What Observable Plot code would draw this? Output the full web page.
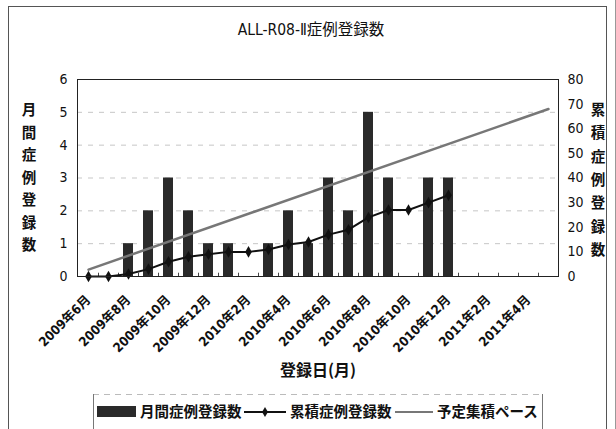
<!DOCTYPE html>
<html>
<head>
<meta charset="utf-8">
<script src="https://cdn.jsdelivr.net/npm/d3@7"></script>
<script src="https://cdn.jsdelivr.net/npm/@observablehq/plot@0.6"></script>
<style>
  html, body { margin: 0; padding: 0; background: #fff; }
  #chart svg { display: block; }
</style>
</head>
<body>
<div id="chart"></div>
<script>
// Registration months (x categories)
const months = [
  "2009年6月","2009年7月","2009年8月","2009年9月","2009年10月","2009年11月",
  "2009年12月","2010年1月","2010年2月","2010年3月","2010年4月","2010年5月",
  "2010年6月","2010年7月","2010年8月","2010年9月","2010年10月","2010年11月",
  "2010年12月","2011年1月","2011年2月","2011年3月","2011年4月","2011年5月"
];
// Monthly registrations (left axis), from 2009年6月 onward
const monthlyCounts = [0,0,1,2,3,2,1,1,0,1,2,1,3,2,5,3,0,3,3];
// Cumulative registrations (right axis), from 2009年6月 onward
const cumulativeCounts = [0,0,1,3,6,8,9,10,10,11,13,14,17,19,24,27,27,30,33];
// Planned accrual pace (right axis): first and last month of the plan
const paceMonths = ["2009年6月", "2011年5月"];
const paceValues = [2.8, 68];
// Axis ticks
const leftTicks = [0,1,2,3,4,5,6];
const rightTicks = [0,10,20,30,40,50,60,70,80];
const xTickLabels = months.filter((m, i) => i % 2 === 0);

const title = "ALL-R08-Ⅱ症例登録数";
const leftLabel = "月間症例登録数";
const rightLabel = "累積症例登録数";
const xLabel = "登録日(月)";
const legendNames = ["月間症例登録数", "累積症例登録数", "予定集積ペース"];

// right axis (0–80) is mapped onto the left axis range (0–6)
const k = 6 / 80;

const monthlyRows = monthlyCounts.map((v, i) => ({month: months[i], value: v}));
const cumulativeRows = cumulativeCounts.map((v, i) => ({month: months[i], value: v * k}));
const paceRows = paceMonths.map((m, i) => ({month: m, value: paceValues[i] * k}));

const FONT = "'Liberation Sans Narrow', 'DejaVu Sans Condensed', 'Noto Sans CJK JP', sans-serif";
const CJK = "'Noto Sans CJK JP', sans-serif";

const plot = Plot.plot({
  width: 616,
  height: 429,
  marginLeft: 77,
  marginRight: 58,
  marginTop: 79,
  marginBottom: 153,
  style: {fontFamily: FONT, fontSize: "14px", color: "#111", background: "#fff"},
  x: {type: "band", domain: months, paddingInner: 0.5, paddingOuter: 0.25},
  y: {domain: [0, 6]},
  marks: [
    Plot.gridY(leftTicks.slice(1, -1), {stroke: "#999", strokeOpacity: 0.55, strokeDasharray: "5,6"}),
    // small category-boundary ticks along the bottom edge
    Plot.ruleX(months.slice(1), {x: d => d, dx: -10, y1: 0, y2: 0.1, stroke: "#444"}),
    Plot.barY(monthlyRows, {x: "month", y: "value", fill: "#2a2a2a"}),
    Plot.line(paceRows, {x: "month", y: "value", stroke: "#777", strokeWidth: 2.5}),
    Plot.line(cumulativeRows, {x: "month", y: "value", stroke: "#111", strokeWidth: 2}),
    Plot.dot(cumulativeRows, {x: "month", y: "value", symbol: "diamond", r: 3.5, fill: "#111", stroke: "none"}),
    Plot.frame({stroke: "#222"}),
    Plot.axisY(leftTicks, {tickSize: 0, tickPadding: 10, fontSize: 14, label: null}),
    Plot.axisY(rightTicks.map(d => d * k), {
      anchor: "right", tickSize: 0, tickPadding: 9, fontSize: 14, label: null,
      tickFormat: d => String(Math.round(d / k))
    }),
    Plot.axisX(xTickLabels, {tickSize: 0, tickPadding: 21, tickRotate: -45, fontSize: 13, fontWeight: "bold", label: null})
  ]
});

document.getElementById("chart").appendChild(plot);

// Titles, legend and outer border
const svg = d3.select(plot);
const deco = svg.append("g").attr("text-anchor", "start");

deco.append("rect")
  .attr("x", 8.5).attr("y", 6.5).attr("width", 598).attr("height", 440)
  .attr("fill", "none").attr("stroke", "#555").attr("stroke-width", 1);
deco.append("line")
  .attr("x1", 615.5).attr("x2", 615.5).attr("y1", 0).attr("y2", 429)
  .attr("stroke", "#999").attr("stroke-width", 1);

deco.append("text")
  .attr("x", 311).attr("y", 30).attr("dy", "0.35em")
  .attr("text-anchor", "middle").attr("font-size", 15.5).attr("font-family", FONT)
  .attr("fill", "#111").text(title);

[...leftLabel].forEach((ch, i) => {
  deco.append("text")
    .attr("x", 29).attr("y", 110 + i * 22.5).attr("dy", "0.35em")
    .attr("text-anchor", "middle").attr("font-size", 14.5).attr("font-weight", 700)
    .attr("font-family", CJK).attr("fill", "#111").text(ch);
});
[...rightLabel].forEach((ch, i) => {
  deco.append("text")
    .attr("x", 598).attr("y", 110 + i * 23.3).attr("dy", "0.35em")
    .attr("text-anchor", "middle").attr("font-size", 14.5).attr("font-weight", 700)
    .attr("font-family", CJK).attr("fill", "#111").text(ch);
});

deco.append("text")
  .attr("x", 318).attr("y", 370).attr("dy", "0.35em")
  .attr("text-anchor", "middle").attr("font-size", 16).attr("font-weight", 700)
  .attr("font-family", CJK).attr("fill", "#111").text(xLabel);

// legend box
const lg = deco.append("g");
lg.append("line").attr("x1", 93).attr("x2", 542).attr("y1", 394.5).attr("y2", 394.5)
  .attr("stroke", "#bbb").attr("stroke-dasharray", "6,5");
lg.append("line").attr("x1", 93.5).attr("x2", 93.5).attr("y1", 394).attr("y2", 429).attr("stroke", "#777");
lg.append("line").attr("x1", 542.5).attr("x2", 542.5).attr("y1", 394).attr("y2", 429).attr("stroke", "#777");

const ly = 412;
lg.append("rect").attr("x", 97).attr("y", ly - 6).attr("width", 39).attr("height", 11).attr("fill", "#2a2a2a");
lg.append("line").attr("x1", 244).attr("x2", 286).attr("y1", ly).attr("y2", ly).attr("stroke", "#111").attr("stroke-width", 2);
lg.append("path").attr("d", d3.symbol(d3.symbolDiamond, 30)()).attr("transform", `translate(265,${ly})`).attr("fill", "#111");
lg.append("line").attr("x1", 395).attr("x2", 433).attr("y1", ly).attr("y2", ly).attr("stroke", "#777").attr("stroke-width", 2);
[140, 290, 437].forEach((x, i) => {
  lg.append("text").attr("x", x).attr("y", ly).attr("dy", "0.35em")
    .attr("text-anchor", "start")
    .attr("font-size", 14.5).attr("font-weight", 700).attr("font-family", CJK)
    .attr("fill", "#111").text(legendNames[i]);
});
</script>
</body>
</html>
